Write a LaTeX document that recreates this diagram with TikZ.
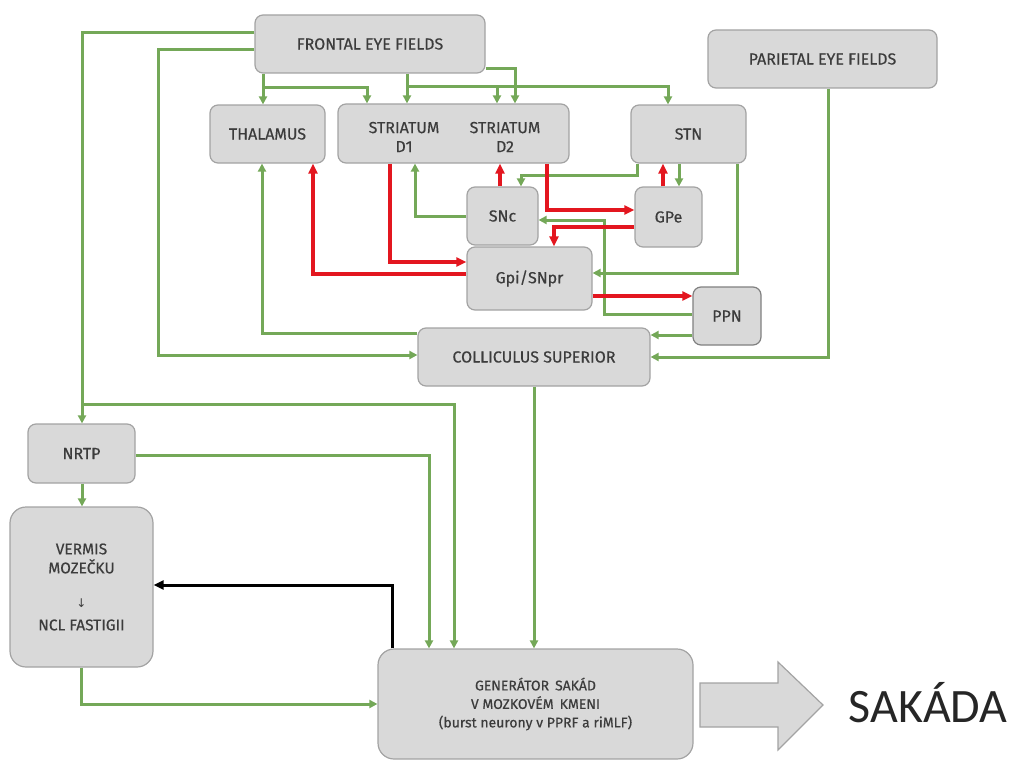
\documentclass[tikz,border=0pt]{standalone}
\usepackage{fontspec}
\setmainfont{Fira Sans}[FakeBold=0.4]
\newfontfamily\bigfont{Carlito}
\newfontfamily\symfont{DejaVu Sans}
\usetikzlibrary{arrows.meta}
\definecolor{boxfill}{HTML}{D9D9D9}
\definecolor{boxline}{HTML}{A3A3A3}
\definecolor{linkgreen}{HTML}{74A858}
\definecolor{linkred}{HTML}{E3161F}
\definecolor{labelgrey}{HTML}{3C3C3C}

\begin{document}
\begin{tikzpicture}[x=1pt,y=-1pt,
  box/.style={draw=boxline, fill=boxfill, line width=1.2pt, rounded corners=8pt,
    inner sep=0pt, font=\fontsize{16}{19}\selectfont, text=labelgrey, align=center},
  bigbox/.style={box, rounded corners=16pt},
  lbl/.style={inner sep=0pt, font=\fontsize{16}{19}\selectfont, text=labelgrey, align=center},
  exc/.style={draw=linkgreen, line width=3pt, -{Triangle[length=8pt,width=8pt]}},
  inh/.style={draw=linkred, line width=3.4pt, -{Triangle[length=10pt,width=9pt]}},
  fb/.style={draw=black, line width=3pt, -{Triangle[length=10pt,width=9pt]}}
]
\useasboundingbox (0,0) rectangle (1010,760);

% ---- nuclei ----
\node[box, minimum width=230pt, minimum height=58pt] (fef) at (370,44) {FRONTAL EYE FIELDS};
\node[box, minimum width=229pt, minimum height=58pt] (pef) at (822.5,59) {PARIETAL EYE FIELDS};
\node[box, minimum width=115pt, minimum height=58pt] (thal) at (267.5,134) {THALAMUS};
\node[box, minimum width=231pt, minimum height=59pt] (str) at (453.5,133.5) {};
\node[lbl] (strdone) at (404,137) {STRIATUM\\D1};
\node[lbl] (strdtwo) at (505,137) {STRIATUM\\D2};
\node[box, minimum width=115pt, minimum height=58pt] (stn) at (688.5,134) {STN};
\node[box, minimum width=71pt, minimum height=58pt] (snc) at (502.5,216) {SNc};
\node[box, minimum width=125pt, minimum height=63pt] (gpi) at (529.5,278.5) {Gpi/SNpr};
\node[box, minimum width=67pt, minimum height=60pt] (gpe) at (668.5,217) {GPe};
\node[box, draw=gray, minimum width=68pt, minimum height=58pt] (ppn) at (727,316) {PPN};
\node[box, minimum width=232pt, minimum height=58pt] (col) at (534,357) {COLLICULUS SUPERIOR};
\node[box, minimum width=107pt, minimum height=59pt] (nrtp) at (81.5,453.5) {NRTP};
\node[bigbox, minimum width=143pt, minimum height=160pt,
  font=\fontsize{15.5}{19}\selectfont] (verm) at (81.5,587)
  {VERMIS\\MOZEČKU\\[15pt]{\symfont\fontsize{12}{12}\selectfont ↓}\\[4pt]NCL FASTIGII};
\node[bigbox, minimum width=315pt, minimum height=110pt,
  font=\fontsize{14}{18.5}\selectfont] (gen) at (535.5,704)
  {GENERÁTOR\, SAKÁD\\V MOZKOVÉM\, KMENI\\(burst neurony v PPRF a riMLF)};

% ---- output arrow and label ----
\draw[draw=boxline, fill=boxfill, line width=1.2pt]
  (700,683) -- (778,683) -- (778,662) -- (823,705) -- (778,750) -- (778,727) -- (700,727) -- cycle;
\node[inner sep=0pt, font=\bigfont\fontsize{48}{50}\selectfont, text=black!85] (sakada) at (928,703) {SAKÁDA};

% ---- excitatory (green) pathways ----
\draw[exc] (fef.west |- 0,33) -| (nrtp.north -| 82,0);
\draw[exc] (82,404) -| (gen.north -| 454,0);
\draw[exc] (fef.west |- 0,50) -| (158,355) -- (col.west |- 0,355);
\draw[exc] (fef.south -| 263,0) -- (thal.north -| 263,0);
\draw[exc] (263,88) -| (str.north -| 367,0);
\draw[exc] (fef.south -| 407,0) -- (str.north -| 407,0);
\draw[exc] (407,87) -| (stn.north -| 668,0);
\draw[exc] (497,87) -- (str.north -| 497,0);
\draw[exc] (fef.east |- 0,69) -| (str.north -| 515,0);
\draw[exc] (col.west |- 0,333) -| (thal.south -| 262,0);
\draw[exc] (snc.west |- 0,216) -| (str.south -| 415,0);
\draw[exc] (stn.south -| 637,0) |- (521,175) -- (snc.north -| 521,0);
\draw[exc] (stn.south -| 679,0) -- (gpe.north -| 679,0);
\draw[exc] (stn.south -| 737,0) |- (gpi.east |- 0,273);
\draw[exc] (ppn.west |- 0,314) -| (604,220) -- (snc.east |- 0,220);
\draw[exc] (ppn.west |- 0,335) -- (col.east |- 0,335);
\draw[exc] (pef.south -| 828,0) |- (col.east |- 0,357);
\draw[exc] (col.south -| 534,0) -- (gen.north -| 534,0);
\draw[exc] (nrtp.east |- 0,455) -| (gen.north -| 429,0);
\draw[exc] (nrtp.south -| 82,0) -- (verm.north -| 82,0);
\draw[exc] (verm.south -| 81,0) |- (gen.west |- 0,704);

% ---- inhibitory (red) pathways ----
\draw[inh] (gpi.west |- 0,274) -| (thal.south -| 313,0);
\draw[inh] (str.south -| 390,0) |- (gpi.west |- 0,262);
\draw[inh] (snc.north -| 500,0) -- (str.south -| 500,0);
\draw[inh] (str.south -| 547,0) |- (gpe.west |- 0,210);
\draw[inh] (gpe.west |- 0,227) -| (gpi.north -| 554,0);
\draw[inh] (gpe.north -| 663,0) -- (stn.south -| 663,0);
\draw[inh] (gpi.east |- 0,296) -- (ppn.west |- 0,296);

% ---- feedback to the cerebellum ----
\draw[fb] (gen.north -| 392,0) |- (verm.east |- 0,585);
\end{tikzpicture}
\end{document}
